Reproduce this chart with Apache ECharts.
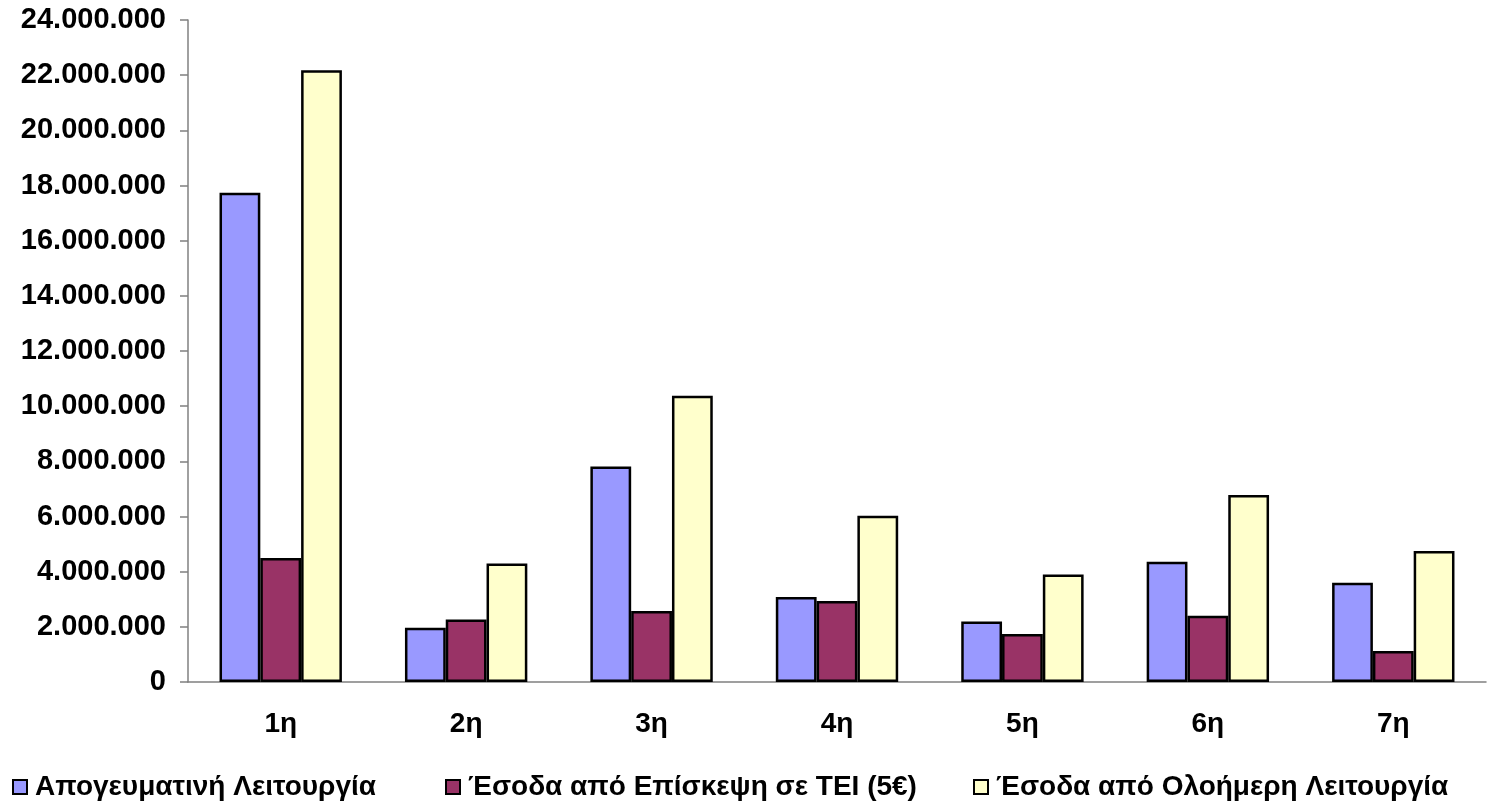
<!DOCTYPE html>
<html>
<head>
<meta charset="utf-8">
<script src="https://cdn.jsdelivr.net/npm/echarts@6/dist/echarts.min.js"></script>
<style>
html,body{margin:0;padding:0;background:#fff;}
#c{width:1487px;height:806px;}
</style>
</head>
<body>
<div id="c"></div>
<script>
var categories = ['1η','2η','3η','4η','5η','6η','7η'];
var seriesNames = ['Απογευματινή Λειτουργία','Έσοδα από Επίσκεψη σε ΤΕΙ (5€)','Έσοδα από Ολοήμερη Λειτουργία'];
var afternoon = [17740000, 1970000, 7810000, 3080000, 2190000, 4360000, 3600000];
var visitTEI  = [4500000, 2270000, 2570000, 2940000, 1740000, 2400000, 1120000];
var fullDay   = [22180000, 4300000, 10380000, 6030000, 3900000, 6780000, 4750000];
var colors = ['#9999FF','#993366','#FFFFCC'];

function fmt(v){
  return String(Math.round(v)).replace(/\B(?=(\d{3})+(?!\d))/g,'.');
}
var font = 'Arial, "Liberation Sans", sans-serif';
var chart = echarts.init(document.getElementById('c'));
var dataSets = [afternoon, visitTEI, fullDay];
var legendLefts = [12, 445, 973];
chart.setOption({
  animation:false,
  backgroundColor:'#fff',
  grid:{left:188, right:1, top:20, bottom:124, containLabel:false},
  legend: seriesNames.map(function(n,i){
    return {
      left:legendLefts[i], top:770, padding:0, itemWidth:14, itemHeight:14,
      icon:'rect',
      textStyle:{fontFamily:font, fontWeight:'bold', fontSize:28, lineHeight:34, color:'#000', padding:[0,0,0,3]},
      data:[n]
    };
  }),
  xAxis:{
    type:'category', data:categories,
    axisLine:{lineStyle:{color:'#808080', width:1.5}},
    axisTick:{alignWithLabel:false, length:8, lineStyle:{color:'#808080', width:1.5}},
    axisLabel:{fontFamily:font, fontWeight:'bold', fontSize:28, color:'#000', margin:28}
  },
  yAxis:{
    type:'value', min:0, max:24000000, interval:2000000,
    axisLine:{show:true, lineStyle:{color:'#808080', width:1.5}},
    axisTick:{show:true, length:8, lineStyle:{color:'#808080', width:1.5}},
    splitLine:{show:false},
    axisLabel:{fontFamily:font, fontWeight:'bold', fontSize:29, color:'#000', margin:22, formatter:fmt}
  },
  series: seriesNames.map(function(n,i){
    return {
      name:n, type:'bar', data:dataSets[i],
      barGap:'0%', barCategoryGap:'34%',
      itemStyle:{color:colors[i], borderColor:'#000', borderWidth:2.5}
    };
  })
});
</script>
</body>
</html>
